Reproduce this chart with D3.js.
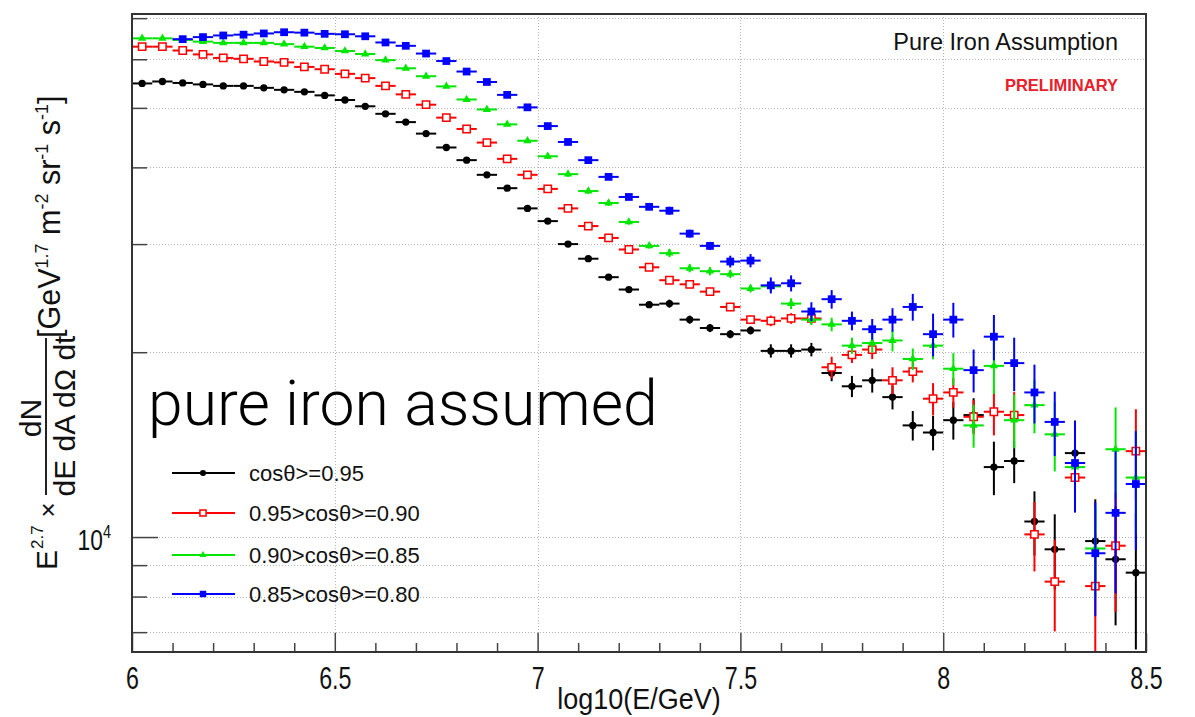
<!DOCTYPE html>
<html>
<head>
<meta charset="utf-8">
<script src="https://cdn.jsdelivr.net/npm/d3@7"></script>
<style>
  html, body { margin: 0; padding: 0; background: #fff; }
  svg { display: block; font-family: "Liberation Sans", Arial, sans-serif; }
</style>
</head>
<body>
<div id="flux-graph"></div>
<script>
// bin centres of log10(E/GeV), 0.05 wide bins
const binCenters = [
  6.025, 6.075, 6.125, 6.175, 6.225, 6.275, 6.325, 6.375, 6.425, 6.475,
  6.525, 6.575, 6.625, 6.675, 6.725, 6.775, 6.825, 6.875, 6.925, 6.975,
  7.025, 7.075, 7.125, 7.175, 7.225, 7.275, 7.325, 7.375, 7.425, 7.475,
  7.525, 7.575, 7.625, 7.675, 7.725, 7.775, 7.825, 7.875, 7.925, 7.975,
  8.025, 8.075, 8.125, 8.175, 8.225, 8.275, 8.325, 8.375, 8.425, 8.475
];

const seriesLabels = ["cosθ>=0.95", "0.95>cosθ>=0.90", "0.90>cosθ>=0.85", "0.85>cosθ>=0.80"];

// cos >= 0.95
const blackValues = [
  54800, 55200, 54900, 54600, 54300, 54300, 53900, 53500, 53100, 52400,
  51500, 50300, 48900, 47400, 45400, 43100, 41100, 38900, 37000, 34300,
  32700, 30000, 28400, 26500, 25300, 23900, 24000, 22600, 21900, 21400,
  21700, 20100, 20100, 20200, 18500, 17600, 18000, 16900, 15200, 14800,
  15500, 15800, 13000, 13300, 10600, 9550, 13700, 9850, 9200, 8750
];
const blackErrors = [
  160, 170, 160, 160, 160, 160, 160, 160, 160, 160,
  150, 150, 150, 150, 140, 130, 130, 120, 120, 120,
  330, 300, 290, 270, 260, 250, 360, 340, 330, 330,
  330, 500, 500, 510, 560, 700, 810, 760, 840, 960,
  1090, 1030, 1300, 1060, 1270, 1340, 1780, 1670, 2020, 2190
];

// 0.95 > cos >= 0.90
const redValues = [
  62900, 62900, 62000, 61100, 60300, 60100, 59500, 59300, 58300, 57800,
  56800, 55900, 54300, 52600, 50600, 48200, 46200, 43900, 41300, 38900,
  36900, 34300, 32100, 30700, 29400, 27500, 26200, 25800, 25100, 23700,
  22600, 22500, 22700, 22700, 18900, 19800, 20200, 18000, 18600, 16800,
  17200, 15700, 16000, 15800, 10100, 8460, 12500, 8320, 9680, 13800
];
const redErrors = [
  190, 190, 190, 180, 180, 180, 180, 180, 170, 170,
  170, 170, 160, 160, 150, 140, 140, 130, 120, 120,
  370, 340, 320, 310, 290, 280, 390, 390, 380, 360,
  340, 450, 450, 450, 760, 590, 710, 900, 740, 1010,
  950, 1020, 1360, 1420, 1310, 1440, 1250, 1830, 2130, 2350
];

// 0.90 > cos >= 0.85
const greenValues = [
  64900, 64900, 64500, 64100, 63800, 63800, 63800, 63500, 62900, 62600,
  61900, 61200, 59800, 58000, 56300, 54200, 51600, 49700, 47000, 44200,
  41700, 39000, 36600, 35000, 32600, 29800, 29000, 27400, 27100, 26800,
  25400, 25600, 24000, 22600, 22200, 20500, 20700, 20900, 19500, 20500,
  18800, 15200, 19000, 15500, 16400, 14700, 13000, 9580, 13900, 12500
];
const greenErrors = [
  190, 190, 190, 190, 190, 190, 190, 190, 190, 190,
  190, 180, 180, 170, 170, 160, 150, 150, 140, 130,
  420, 390, 370, 350, 330, 300, 430, 410, 410, 400,
  380, 510, 480, 450, 560, 620, 720, 840, 780, 1030,
  1130, 1220, 1900, 1550, 1640, 1910, 1560, 1630, 2360, 2380
];

// 0.85 > cos >= 0.80 (first two bins empty)
const blueValues = [
  null, null, 64700, 65200, 65600, 65800, 66100, 66400, 66300, 66000,
  65900, 65400, 63900, 63100, 61300, 59600, 57300, 55100, 52500, 50100,
  46700, 44000, 41100, 38600, 35800, 34500, 34000, 31200, 29800, 28100,
  28200, 25700, 25900, 23300, 24400, 22500, 21800, 22600, 23700, 21400,
  22600, 18700, 21200, 19200, 17200, 15400, 13200, 9410, 10950, 12200
];
const blueErrors = [
  null, null, 190, 200, 200, 200, 200, 200, 200, 200,
  200, 200, 190, 190, 180, 180, 170, 170, 160, 150,
  470, 440, 410, 390, 360, 350, 510, 470, 450, 620,
  700, 770, 780, 820, 850, 790, 850, 990, 1190, 1710,
  1470, 1500, 1800, 1920, 1890, 1850, 2240, 1980, 2850, 2680
];

const xTickLabels = ["6", "6.5", "7", "7.5", "8", "8.5"];
const xMinorTicks = [
  6.1, 6.2, 6.3, 6.4, 6.6, 6.7, 6.8, 6.9, 7.1, 7.2, 7.3, 7.4,
  7.6, 7.7, 7.8, 7.9, 8.1, 8.2, 8.3, 8.4
];
const yTickValues = [7000, 8000, 9000, 10000, 20000, 30000, 40000, 50000, 60000, 70000];

const graphTheme = [
  { color: "#000000", symbol: d3.symbolCircle, size: 42, fill: "#000000" },
  { color: "#ff0000", symbol: d3.symbolSquare, size: 54, fill: "#ffffff" },
  { color: "#00e600", symbol: d3.symbolTriangle, size: 30, fill: "#00e600" },
  { color: "#0000ff", symbol: d3.symbolSquare, size: 60, fill: "#0000ff" }
];

const svgConfig = {
  width: 1195,
  height: 717,
  frame: { left: 132, right: 1146, top: 14, bottom: 652 },
  binHalfWidth: 0.025
};

const draw = (target) => {
  const f = svgConfig.frame;
  const svg = target.append("svg")
    .attr("width", svgConfig.width)
    .attr("height", svgConfig.height);

  const x = d3.scaleLinear().domain([6, 8.5]).range([f.left, f.right]);
  const y = d3.scaleLog().domain([6498, 71100]).range([f.bottom, f.top]);

  svg.append("defs").append("clipPath").attr("id", "frame-clip")
    .append("rect")
    .attr("x", f.left).attr("y", f.top)
    .attr("width", f.right - f.left).attr("height", f.bottom - f.top);

  // -- grid --
  const grid = svg.append("g")
    .attr("stroke", "#b4b4b4")
    .attr("stroke-width", 1)
    .attr("stroke-dasharray", "1,2");
  grid.selectAll(".gy").data(yTickValues).enter().append("line")
    .attr("x1", f.left).attr("x2", f.right)
    .attr("y1", (d) => Math.round(y(d)) + 0.5).attr("y2", (d) => Math.round(y(d)) + 0.5);
  grid.selectAll(".gx").data([6.5, 7, 7.5, 8]).enter().append("line")
    .attr("y1", f.top).attr("y2", f.bottom)
    .attr("x1", (d) => Math.round(x(d)) + 0.5).attr("x2", (d) => Math.round(x(d)) + 0.5);

  // -- axes --
  const xAxis = d3.axisBottom(x)
    .tickValues([6, 6.5, 7, 7.5, 8, 8.5])
    .tickSizeInner(-19).tickSizeOuter(0)
    .tickFormat((d, i) => xTickLabels[i]);
  const gx = svg.append("g")
    .attr("transform", `translate(0, ${f.bottom})`)
    .call(xAxis);
  gx.select(".domain").remove();
  gx.selectAll(".tick line").attr("stroke", "#444").attr("stroke-width", 1.5);
  // tick labels in the reference are tall and narrow
  gx.selectAll(".tick text")
    .attr("font-size", 31)
    .attr("fill", "#111")
    .attr("y", 37)
    .attr("dy", 0)
    .attr("transform", "scale(0.75,1)");

  const xMinor = d3.axisBottom(x).tickValues(xMinorTicks).tickSizeInner(-9).tickSizeOuter(0).tickFormat("");
  const gxm = svg.append("g").attr("transform", `translate(0, ${f.bottom})`).call(xMinor);
  gxm.select(".domain").remove();
  gxm.selectAll(".tick line").attr("stroke", "#444").attr("stroke-width", 1.5);

  const yAxis = d3.axisLeft(y)
    .tickValues(yTickValues)
    .tickSizeInner(0).tickSizeOuter(0)
    .tickFormat("");
  const gy = svg.append("g").attr("transform", `translate(${f.left}, 0)`).call(yAxis);
  gy.select(".domain").remove();
  gy.selectAll(".tick line")
    .attr("x2", (d) => d === 10000 ? 26 : 15)
    .attr("stroke", "#444").attr("stroke-width", 1.5);

  // 10^4 label
  const yLab = svg.append("text")
    .attr("x", 0).attr("y", 0)
    .attr("text-anchor", "end")
    .attr("font-size", 30).attr("fill", "#111")
    .attr("transform", `translate(111,${y(10000) + 13}) scale(0.76,1)`);
  yLab.append("tspan").text("10");
  yLab.append("tspan").attr("font-size", 19).attr("dy", -12).text("4");

  // -- data: error bars and markers --
  const allSeries = [
    { values: blackValues, errors: blackErrors },
    { values: redValues, errors: redErrors },
    { values: greenValues, errors: greenErrors },
    { values: blueValues, errors: blueErrors }
  ];
  const plot = svg.append("g").attr("clip-path", "url(#frame-clip)");

  allSeries.forEach((s, k) => {
    const theme = graphTheme[k];
    const pts = binCenters
      .map((c, i) => ({ c: c, v: s.values[i], e: s.errors[i] }))
      .filter((p) => p.v !== null);
    const g = plot.append("g").attr("stroke", theme.color).attr("stroke-width", 2);

    g.selectAll(".ex").data(pts).enter().append("line")
      .attr("x1", (d) => x(d.c - svgConfig.binHalfWidth))
      .attr("x2", (d) => x(d.c + svgConfig.binHalfWidth))
      .attr("y1", (d) => y(d.v)).attr("y2", (d) => y(d.v));
    g.selectAll(".ey").data(pts).enter().append("line")
      .attr("x1", (d) => x(d.c)).attr("x2", (d) => x(d.c))
      .attr("y1", (d) => y(Math.max(d.v - d.e, 1)))
      .attr("y2", (d) => y(d.v + d.e));

    plot.append("g").selectAll("path").data(pts).enter().append("path")
      .attr("transform", (d) => `translate(${x(d.c)},${y(d.v)})`)
      .attr("d", d3.symbol().type(theme.symbol).size(theme.size))
      .attr("fill", theme.fill)
      .attr("stroke", theme.color)
      .attr("stroke-width", k === 1 ? 1.5 : 0);
  });

  // -- frame --
  svg.append("rect")
    .attr("x", f.left).attr("y", f.top)
    .attr("width", f.right - f.left).attr("height", f.bottom - f.top)
    .attr("fill", "none").attr("stroke", "#333").attr("stroke-width", 2);

  // -- x title --
  svg.append("text")
    .attr("x", 0).attr("y", 0)
    .attr("text-anchor", "middle")
    .attr("font-size", 30).attr("fill", "#111")
    .attr("transform", `translate(${(f.left + f.right) / 2},709) scale(0.9,1)`)
    .text("log10(E/GeV)");

  // -- y title (rotated pieces) --
  const rot = (px, py) => `translate(${px},${py}) rotate(-90)`;
  const yt = svg.append("g").attr("fill", "#111").attr("font-size", 30);

  const eText = yt.append("text").attr("transform", rot(57, 570));
  eText.append("tspan").text("E");
  eText.append("tspan").attr("font-size", 17).attr("dy", -14).attr("dx", 1).text("2.7");

  yt.append("text").attr("transform", rot(57, 510))
    .attr("text-anchor", "middle").attr("font-size", 26).text("×");

  yt.append("text").attr("transform", rot(41, 418))
    .attr("text-anchor", "middle").text("dN");
  yt.append("line")
    .attr("x1", 46).attr("x2", 46).attr("y1", 338).attr("y2", 495)
    .attr("stroke", "#222").attr("stroke-width", 2);
  yt.append("text").attr("transform", rot(75, 416))
    .attr("text-anchor", "middle").text("dE dA dΩ dt");

  const unitText = yt.append("text").attr("transform", rot(60, 338)).attr("font-size", 30.5);
  const unitParts = [["[GeV", 0], ["1.7", 1], [" m", 0], ["-2", 1], [" sr", 0], ["-1", 1], [" s", 0], ["-1", 1], ["]", 0]];
  let lifted = false;
  unitParts.forEach(([t, sup]) => {
    const ts = unitText.append("tspan").text(t);
    if (sup && !lifted) { ts.attr("font-size", 18).attr("dy", -12); lifted = true; }
    else if (!sup && lifted) { ts.attr("dy", 12); lifted = false; }
    else if (sup) ts.attr("font-size", 18);
  });

  // -- annotations --
  svg.append("text")
    .attr("x", 1118).attr("y", 50)
    .attr("text-anchor", "end")
    .attr("font-size", 23.5).attr("fill", "#111")
    .text("Pure Iron Assumption");
  svg.append("text")
    .attr("x", 1118).attr("y", 91)
    .attr("text-anchor", "end")
    .attr("font-size", 16.5).attr("font-weight", "bold").attr("fill", "#e8202a")
    .text("PRELIMINARY");
  svg.append("text")
    .attr("x", 148).attr("y", 425)
    .attr("font-family", "Roboto, 'Liberation Sans', sans-serif")
    .attr("font-weight", 300)
    .attr("font-size", 62.5).attr("fill", "#000")
    .text("pure iron assumed");

  // -- legend --
  const rows = [473, 513, 555, 594];
  const legend = svg.append("g");
  seriesLabels.forEach((label, k) => {
    const theme = graphTheme[k];
    const ry = rows[k];
    legend.append("line")
      .attr("x1", 172).attr("x2", 235).attr("y1", ry).attr("y2", ry)
      .attr("stroke", theme.color).attr("stroke-width", 2);
    legend.append("path")
      .attr("transform", `translate(203,${ry})`)
      .attr("d", d3.symbol().type(theme.symbol).size(theme.size * 0.7))
      .attr("fill", theme.fill)
      .attr("stroke", theme.color)
      .attr("stroke-width", k === 1 ? 1.5 : 0);
    legend.append("text")
      .attr("x", 249).attr("y", ry + 8)
      .attr("font-size", 22).attr("fill", "#111")
      .text(label);
  });
};

draw(d3.select("#flux-graph"));
</script>
</body>
</html>
